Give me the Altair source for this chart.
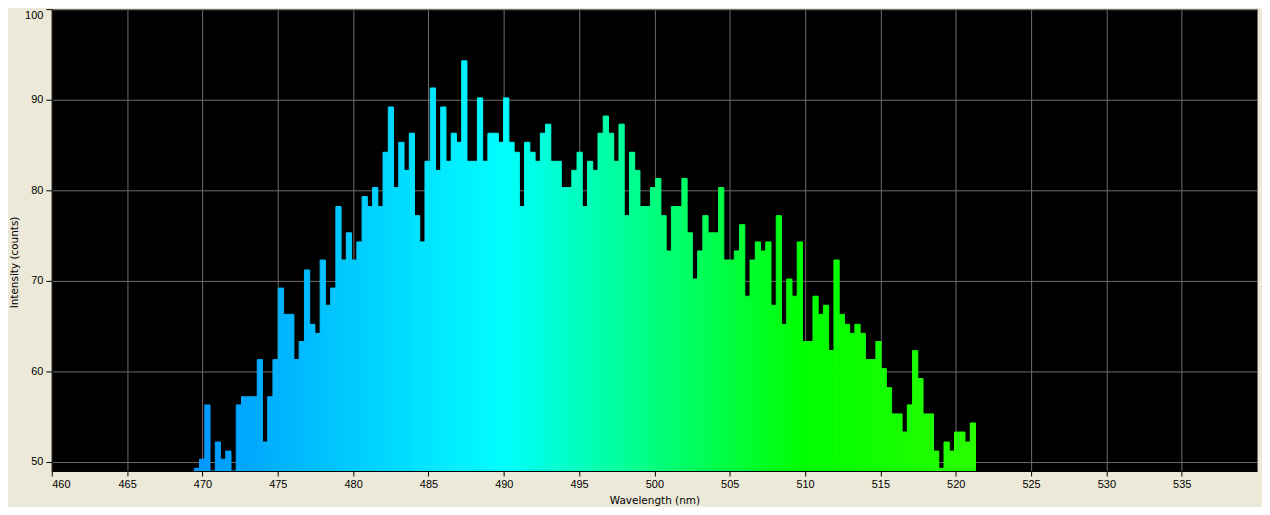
import altair as alt
import pandas as pd

# Spectrometer bins (nm)
wl_start = 469.46
wl_step = 0.348

intensity = [
    49.3, 50.3, 56.3, 48.5, 52.2, 50.3, 51.2, 48.5, 56.3, 57.2,
    57.2, 57.2, 61.3, 52.2, 57.2, 61.3, 69.2, 66.3, 66.3, 61.3,
    63.3, 71.2, 65.2, 64.2, 72.3, 67.3, 69.2, 78.2, 72.3, 75.3,
    72.3, 74.3, 79.3, 78.2, 80.3, 78.2, 84.2, 89.2, 80.3, 85.3,
    82.2, 86.3, 77.2, 74.3, 83.2, 91.3, 82.2, 89.2, 83.2, 86.3,
    85.3, 94.3, 83.2, 83.2, 90.2, 83.2, 86.3, 86.3, 85.3, 90.2,
    85.3, 84.2, 78.2, 85.3, 84.2, 83.2, 86.3, 87.3, 83.2, 83.2,
    80.3, 80.3, 82.2, 84.2, 78.2, 83.2, 82.2, 86.3, 88.2, 86.3,
    83.2, 87.3, 77.2, 84.2, 82.2, 78.2, 78.2, 80.3, 81.3, 77.2,
    73.3, 78.2, 78.2, 81.3, 75.3, 70.2, 73.3, 77.2, 75.3, 75.3,
    80.3, 72.3, 72.3, 73.3, 76.2, 68.3, 72.3, 74.3, 73.3, 74.3,
    67.3, 77.2, 65.2, 70.2, 68.3, 74.3, 63.3, 63.3, 68.3, 66.3,
    67.3, 62.3, 72.3, 66.3, 65.2, 64.2, 65.2, 64.2, 61.3, 61.3,
    63.3, 60.3, 58.2, 55.3, 55.3, 53.3, 56.3, 62.3, 59.2, 55.3,
    55.3, 51.2, 49.3, 52.2, 51.2, 53.3, 53.3, 52.2, 54.3,
]

x_ticks = [460, 465, 470, 475, 480, 485, 490, 495, 500, 505, 510, 515, 520, 525, 530, 535]
y_ticks = [50, 60, 70, 80, 90, 100]

# Visible-spectrum colour stops (wavelength -> RGB)
spec_wl = [440, 490, 510, 580]
spec_rgb = ["#0000ff", "#00ffff", "#00ff00", "#ffff00"]

lo = [wl_start + i * wl_step for i in range(len(intensity))]
df = pd.DataFrame({
    "lo": lo,
    "hi": [v + wl_step for v in lo],
    "mid": [v + wl_step / 2 for v in lo],
    "value": intensity,
})

GRID = "#6d6d6d"
LFONT = "Liberation Sans"
spec_scale = alt.Scale(domain=spec_wl, range=spec_rgb, interpolate="rgb")

bars = alt.Chart(df).mark_rect(clip=True, strokeWidth=1).encode(
    x=alt.X(
        "lo:Q",
        scale=alt.Scale(domain=[460, 540], nice=False, zero=False),
        axis=alt.Axis(
            values=x_ticks, title="Wavelength (nm)", format="d",
            grid=True, gridColor=GRID, gridWidth=1,
            tickSize=5, tickColor="black", domainColor="black",
            labelFont=LFONT, labelFontSize=11, labelColor="black",
            labelPadding=3, labelFlush=True,
            titleFont="DejaVu Sans", titleFontSize=10.5, titleFontWeight="normal",
            titleColor="black", titleY=30, titleBaseline="middle",
        ),
    ),
    x2="hi:Q",
    y=alt.Y(
        "value:Q",
        scale=alt.Scale(domain=[49, 100], nice=False, zero=False),
        axis=alt.Axis(
            values=y_ticks, title="Intensity (counts)", format="d",
            grid=True, gridColor=GRID, gridWidth=1,
            tickSize=6, tickColor="black", domainColor="black",
            labelFont=LFONT, labelFontSize=11, labelColor="black",
            labelPadding=3, labelFlush=True,
            titleFont="DejaVu Sans", titleFontSize=10.5, titleFontWeight="normal",
            titleColor="black", titleAngle=270, titleX=-37, titleY=254,
            titleBaseline="middle", titleAlign="center",
        ),
    ),
    y2=alt.Y2(datum=49),
    fill=alt.Fill("mid:Q", scale=spec_scale, legend=None),
    stroke=alt.Stroke("mid:Q", scale=spec_scale, legend=None),
)

chart = bars.properties(
    width=1211,
    height=464,
    background="#ECE9D8",
    padding={"left": 44, "top": 0, "right": 5, "bottom": 35},
    autosize=alt.AutoSizeParams(type="none"),
).configure_view(
    fill="black",
    stroke=GRID,
    strokeWidth=1,
)

chart.save("out.html", embed_options={"renderer": "svg", "actions": False})
